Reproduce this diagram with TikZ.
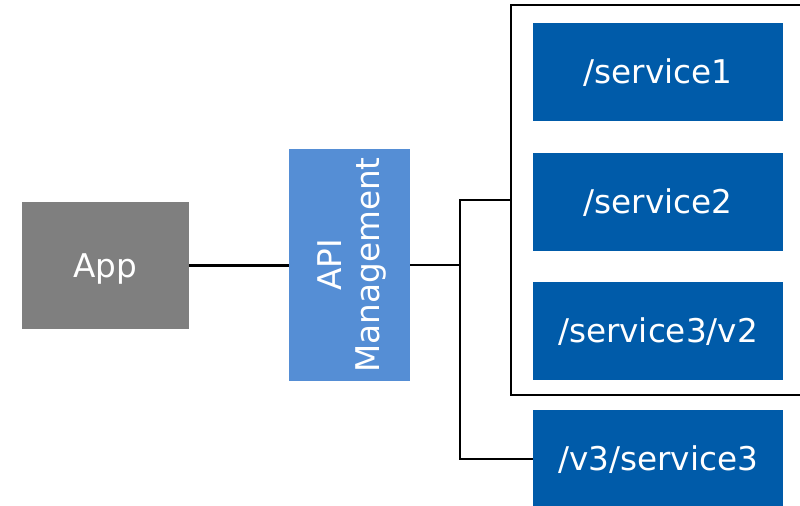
\documentclass[tikz,border=0pt]{standalone}
\usepackage{fontspec}
\setmainfont{DejaVu Sans}
\definecolor{appgray}{HTML}{7F7F7F}
\definecolor{apiblue}{HTML}{558ED5}
\definecolor{svcblue}{HTML}{005BA9}
\begin{document}
\begin{tikzpicture}[x=0.75pt,y=-0.75pt,
  every node/.style={inner sep=0pt, outer sep=0pt},
  txt/.style={text=white, font=\fontsize{24.5}{28.5}\selectfont},
  onetxt/.style={txt, text height=17.9pt, text depth=0pt},
  appbox/.style={fill=appgray, onetxt, minimum width=125.25pt, minimum height=95.25pt},
  apibox/.style={fill=apiblue, minimum width=90.75pt, minimum height=174pt},
  svcbox/.style={fill=svcblue, onetxt, minimum width=187.5pt, minimum height=73.5pt},
  groupbox/.style={draw=black, line width=1.9pt, minimum width=218.25pt, minimum height=292.5pt},
  conn/.style={draw=black, line width=1.9pt}]
\useasboundingbox (0,0) rectangle (800,506);
\node[groupbox] (group) at (656.5,200) {};
\node[appbox] (app) at (105.5,265.5) {App};
\node[apibox] (api) at (349.5,265) {};
\node[txt, rotate=90, align=center] (apitext) at (352,265) {API\\Management};
\node[svcbox] (s1) at (658,72) {/service1};
\node[svcbox] (s2) at (658,202) {/service2};
\node[svcbox] (s3) at (658,331) {/service3/v2};
\node[svcbox] (v3) at (658,459) {/v3/service3};
\coordinate (jt) at (460,200);
\coordinate (jm) at (460,265);
\coordinate (jb) at (460,459);
\draw[conn] (app.east) -- (app.east -| api.west);
\draw[conn] (api.east |- jm) -- (jm);
\draw[conn] (group.west) -- (jt) -- (jb) -- (v3.west);
\end{tikzpicture}
\end{document}
